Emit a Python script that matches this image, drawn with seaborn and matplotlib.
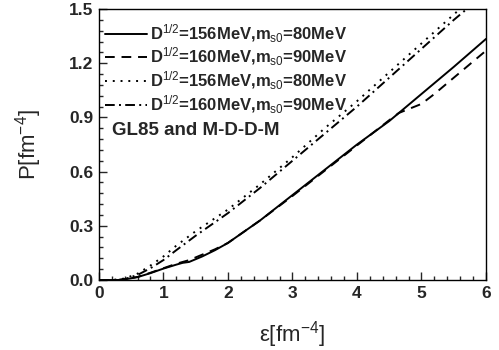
import matplotlib
matplotlib.use("Agg")
import matplotlib.pyplot as plt
import seaborn as sns
import pandas as pd
from matplotlib.ticker import MultipleLocator, FormatStrFormatter

# Data
x_solid = [0.0, 0.3, 0.4, 0.6, 0.8, 1.0, 1.2, 1.3, 1.4, 1.6, 1.8, 2.0, 2.5, 3.0, 3.5, 4.0, 4.5, 5.0, 5.5, 6.0]
y_solid = [0.0, 0.0, 0.003, 0.016, 0.038, 0.063, 0.085, 0.095, 0.10, 0.13, 0.165, 0.205, 0.33, 0.47, 0.61, 0.75, 0.88, 1.03, 1.18, 1.335]

x_dash = [0.0, 0.3, 0.4, 0.6, 0.8, 1.0, 1.2, 1.4, 1.6, 1.8, 2.0, 2.5, 3.0, 3.5, 4.0, 4.5, 4.65, 5.0, 5.2, 5.5, 6.0]
y_dash = [0.0, 0.0, 0.003, 0.017, 0.04, 0.065, 0.09, 0.11, 0.14, 0.17, 0.205, 0.33, 0.465, 0.605, 0.745, 0.885, 0.925, 0.975, 1.03, 1.12, 1.27]

x_dot = [0.0, 0.2, 0.4, 0.6, 0.8, 1.0, 1.2, 1.5, 2.0, 2.5, 3.0, 3.5, 4.0, 4.5, 5.0, 5.5, 6.0]
y_dot = [0.0, 0.0, 0.008, 0.035, 0.08, 0.13, 0.19, 0.27, 0.39, 0.53, 0.68, 0.84, 0.99, 1.15, 1.31, 1.47, 1.63]

x_dashdot = [0.0, 0.3, 0.4, 0.6, 0.8, 1.0, 1.2, 1.5, 2.0, 2.5, 3.0, 3.5, 4.0, 4.5, 5.0, 5.5, 6.0]
y_dashdot = [0.0, 0.0, 0.005, 0.028, 0.065, 0.11, 0.165, 0.245, 0.37, 0.51, 0.66, 0.81, 0.96, 1.12, 1.28, 1.44, 1.59]

labels = [
    r"D$^{\mathrm{1/2}}$=156MeV,m$_{\mathrm{s0}}$=80MeV",
    r"D$^{\mathrm{1/2}}$=160MeV,m$_{\mathrm{s0}}$=90MeV",
    r"D$^{\mathrm{1/2}}$=156MeV,m$_{\mathrm{s0}}$=80MeV",
    r"D$^{\mathrm{1/2}}$=160MeV,m$_{\mathrm{s0}}$=90MeV",
]
annotation = "GL85 and M-D-D-M"
xlabel = r"ε[fm$^{-4}$]"
ylabel = r"P[fm$^{-4}$]"

sns.set_style("ticks")
plt.rcParams["font.family"] = ["Liberation Sans", "DejaVu Sans"]
plt.rcParams["mathtext.fontset"] = "custom"
plt.rcParams["mathtext.rm"] = "Liberation Sans:bold"
plt.rcParams["mathtext.it"] = "Liberation Sans:bold"
plt.rcParams["mathtext.bf"] = "Liberation Sans:bold"
plt.rcParams["mathtext.default"] = "rm"

fig = plt.figure(figsize=(4.99, 3.5), dpi=100)
ax = fig.add_axes([0.198, 0.2, 0.776, 0.774])

dash_styles = [None, (5, 3.5), (1, 3), (5, 2.2, 1, 2.2)]
series = [(x_solid, y_solid), (x_dash, y_dash), (x_dot, y_dot), (x_dashdot, y_dashdot)]
for (xs, ys), lab, dash in zip(series, labels, dash_styles):
    df = pd.DataFrame({"x": xs, "y": ys})
    sns.lineplot(data=df, x="x", y="y", color="black", lw=1.4, label=lab, ax=ax, sort=False)
    if dash is not None:
        ax.lines[-1].set_dashes(dash)

ax.set_xlim(0, 6)
ax.set_ylim(0, 1.5)
ax.xaxis.set_major_locator(MultipleLocator(1))
ax.xaxis.set_minor_locator(MultipleLocator(0.2))
ax.yaxis.set_major_locator(MultipleLocator(0.3))
ax.yaxis.set_minor_locator(MultipleLocator(0.06))
ax.yaxis.set_major_formatter(FormatStrFormatter("%.1f"))
ax.tick_params(which="both", direction="in", top=False, right=False, labelsize=12.5, width=1.0)
ax.tick_params(which="major", length=6, pad=4)
ax.tick_params(which="minor", length=3)
for lbl in ax.get_xticklabels() + ax.get_yticklabels():
    lbl.set_fontweight("bold")
for s in ax.spines.values():
    s.set_linewidth(1.0)
    s.set_color("black")

plt.rcParams["mathtext.rm"] = "Liberation Sans"
ax.set_xlabel(xlabel, fontsize=16, labelpad=13)
ax.set_ylabel(ylabel, fontsize=16, labelpad=18)

leg = ax.legend(loc="upper left", frameon=False, fontsize=12, handlelength=2.5,
                handletextpad=0.15, labelspacing=0.08, borderaxespad=0.0,
                bbox_to_anchor=(0.0, 0.975))
for t in leg.get_texts():
    t.set_fontweight("bold")
ax.text(0.2, 0.83, annotation, fontsize=13.5, fontweight="bold", va="center", ha="left")

fig.savefig("out.png", dpi=100)
